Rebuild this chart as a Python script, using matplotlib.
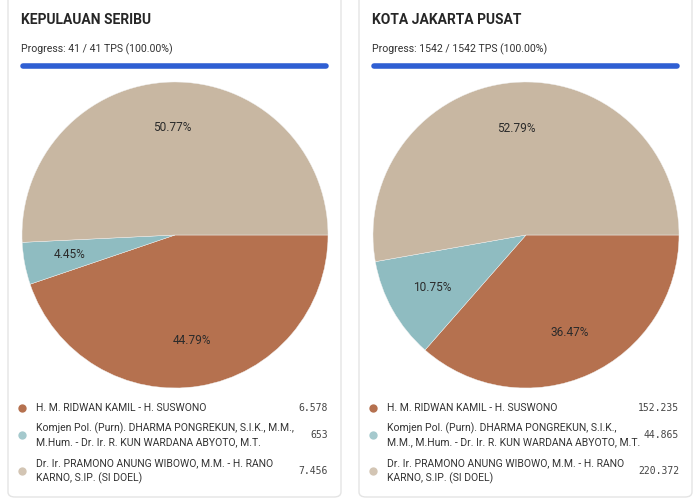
import matplotlib.pyplot as plt
from matplotlib.patches import FancyBboxPatch
from matplotlib.lines import Line2D

plt.rcParams['font.family'] = ['Roboto', 'DejaVu Sans']

regions = ["KEPULAUAN SERIBU", "KOTA JAKARTA PUSAT"]
tps_done = [41, 1542]
tps_total = [41, 1542]
candidates = [
    "H. M. RIDWAN KAMIL - H. SUSWONO",
    "Komjen Pol. (Purn). DHARMA PONGREKUN, S.I.K., M.M.,\nM.Hum. - Dr. Ir. R. KUN WARDANA ABYOTO, M.T.",
    "Dr. Ir. PRAMONO ANUNG WIBOWO, M.M. - H. RANO\nKARNO, S.IP. (SI DOEL)",
]
candidates_right = [
    "H. M. RIDWAN KAMIL - H. SUSWONO",
    "Komjen Pol. (Purn). DHARMA PONGREKUN, S.I.K.,\nM.M., M.Hum. - Dr. Ir. R. KUN WARDANA ABYOTO, M.T.",
    "Dr. Ir. PRAMONO ANUNG WIBOWO, M.M. - H. RANO\nKARNO, S.IP. (SI DOEL)",
]
votes_seribu = [6578, 653, 7456]
votes_pusat = [152235, 44865, 220372]
colors = ['#b5714f', '#8fbcc1', '#c8b7a2']

W, H = 700, 500
fig = plt.figure(figsize=(7, 5), dpi=100)
fig.patch.set_facecolor('white')


def fx(x):
    return x / W


def fy(y):
    return 1 - y / H


def fmt(v):
    return f"{v:,}".replace(",", ".")


def card(x0, votes, labels, name, done, total):
    # card frame (behind the pie axes)
    frame = FancyBboxPatch((fx(x0), fy(497)), fx(333), 1.1,
                           boxstyle="round,pad=0,rounding_size=0.01",
                           transform=fig.transFigure, facecolor='none',
                           edgecolor='#e4e4e4', linewidth=1.0, zorder=-1)
    fig.patches.append(frame)
    fig.text(fx(x0 + 13), fy(20), name, fontsize=10, fontweight='bold',
             color='#262626', va='center', ha='left')
    fig.text(fx(x0 + 13), fy(49), f"Progress: {done} / {total} TPS ({done / total * 100:.2f}%)",
             fontsize=7.6, color='#333333', va='center', ha='left')
    fig.add_artist(Line2D([fx(x0 + 15), fx(x0 + 318)], [fy(66), fy(66)],
                          transform=fig.transFigure, color='#2f5fd3',
                          linewidth=4, solid_capstyle='round'))
    # pie
    cx, r = x0 + 167, 153
    ax = fig.add_axes([fx(cx - r), fy(235 + r), fx(2 * r), 2 * r / H])
    ax.pie(votes, colors=colors, startangle=0, counterclock=False, radius=1,
           autopct='%.2f%%', pctdistance=0.7,
           textprops=dict(fontsize=8.6, color='#2b2b2b'),
           wedgeprops=dict(linewidth=0.3, edgecolor='#f2f2f2'))
    ax.set_xlim(-1, 1)
    ax.set_ylim(-1, 1)
    ax.set_aspect('equal')
    ax.axis('off')
    # legend rows
    rows_y = [408, 435, 471]
    for (lab, v, c, y) in zip(labels, votes, colors, rows_y):
        fig.add_artist(Line2D([fx(x0 + 14)], [fy(y)], transform=fig.transFigure,
                              marker='o', markersize=6, color=c, linestyle='none',
                              markeredgewidth=0, alpha=1 if y == 408 else 0.8))
        fig.text(fx(x0 + 28), fy(y), lab, fontsize=7.5, color='#333333',
                 va='center', ha='left', linespacing=1.4)
        fig.text(fx(x0 + 320), fy(y), fmt(v), fontsize=7, color='#444444',
                 family='DejaVu Sans Mono', va='center', ha='right')


card(8, votes_seribu, candidates, regions[0], tps_done[0], tps_total[0])
card(359, votes_pusat, candidates_right, regions[1], tps_done[1], tps_total[1])

fig.savefig("out.png", dpi=100)
